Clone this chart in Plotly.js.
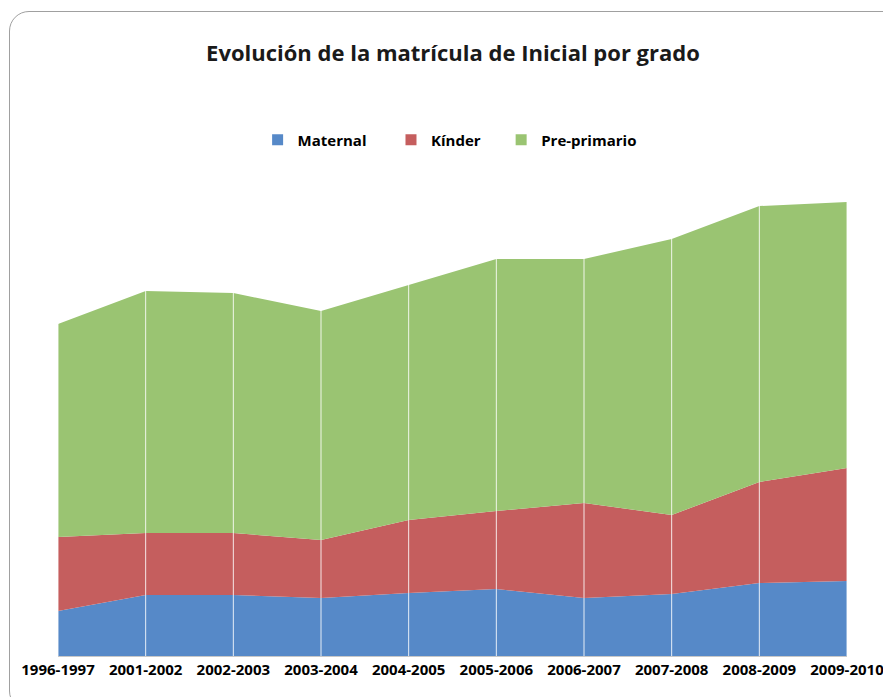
<!DOCTYPE html>
<html>
<head>
<meta charset="utf-8">
<script src="https://cdn.plot.ly/plotly-3.0.1.min.js"></script>
<style>
  html, body { margin: 0; padding: 0; background: #fff; overflow: hidden; }
  #wrap { position: relative; width: 883px; height: 697px; }
  #chart { position: absolute; left: 0; top: 0; width: 883px; height: 697px; }
  #frame { position: absolute; left: 9px; top: 11px; width: 900px; height: 700px;
           border: 1.5px solid #a0a0a0; border-radius: 20px; pointer-events: none; box-sizing: border-box; }
</style>
</head>
<body>
<div id="wrap">
  <div id="chart"></div>
  <div id="frame"></div>
</div>
<script>
const categories = ["1996-1997","2001-2002","2002-2003","2003-2004","2004-2005",
                    "2005-2006","2006-2007","2007-2008","2008-2009","2009-2010"];
const maternal    = [45, 61, 61, 58, 63, 67, 58, 62, 73, 75];
const kinder      = [74, 62, 62, 58, 73, 78, 95, 79, 101, 113];
const preprimario = [213, 242, 240, 229, 235, 252, 244, 276, 276, 266];

const names  = ["Maternal", "Kínder", "Pre-primario"];
const colors = ["#5689C8", "#C55E5E", "#9AC472"];
const series = [maternal, kinder, preprimario];
const legendPad = ["\u00a0\u00a0\u00a0\u00a0\u00a0", "\u00a0\u00a0\u00a0\u00a0", ""];

const traces = [];
series.forEach((vals, i) => {
  traces.push({
    type: "scatter", mode: "lines", x: categories, y: vals,
    stackgroup: "one", name: names[i], showlegend: false,
    line: { width: 0, color: colors[i] }, fillcolor: colors[i], hoverinfo: "x+y+name"
  });
});
series.forEach((vals, i) => {
  traces.push({
    type: "scatter", mode: "markers", x: [null], y: [null], name: names[i] + legendPad[i],
    marker: { symbol: "square", size: 11, color: colors[i] }, showlegend: true
  });
});

const gridShapes = categories.map(c => ({
  type: "line", xref: "x", yref: "paper", x0: c, x1: c, y0: 0, y1: 1,
  line: { color: "rgba(255,255,255,0.85)", width: 1 }, layer: "above"
}));

const layout = {
  width: 883, height: 697,
  margin: { l: 58, r: 36, t: 186, b: 41 },
  paper_bgcolor: "rgba(0,0,0,0)", plot_bgcolor: "rgba(0,0,0,0)",
  font: { family: "Open Sans, sans-serif", color: "#000" },
  title: {
    text: "<b>Evolución de la matrícula de Inicial por grado</b>",
    font: { family: "Open Sans, sans-serif", size: 22, color: "#1a1a1a" },
    x: 0.513, xanchor: "center", y: 1 - 53/697, yanchor: "middle", yref: "container"
  },
  showlegend: true,
  legend: {
    orientation: "h", x: 0.253, xanchor: "left", y: 1.098, yanchor: "middle",
    font: { family: "Open Sans, sans-serif", size: 15, color: "#000", weight: "bold" },
    traceorder: "normal", itemwidth: 30
  },
  xaxis: {
    type: "category", range: [0, categories.length - 1], showgrid: false, zeroline: false,
    showline: true, linecolor: "#c8c8c8", linewidth: 1, ticks: "", layer: "above traces",
    tickfont: { family: "Open Sans, sans-serif", size: 15, color: "#000", weight: "bold" },
    fixedrange: true
  },
  yaxis: {
    range: [0, 470], showgrid: false, zeroline: false, showline: false,
    showticklabels: false, ticks: "", fixedrange: true
  },
  shapes: gridShapes
};

Plotly.newPlot("chart", traces, layout, { displayModeBar: false, staticPlot: true });
</script>
</body>
</html>
